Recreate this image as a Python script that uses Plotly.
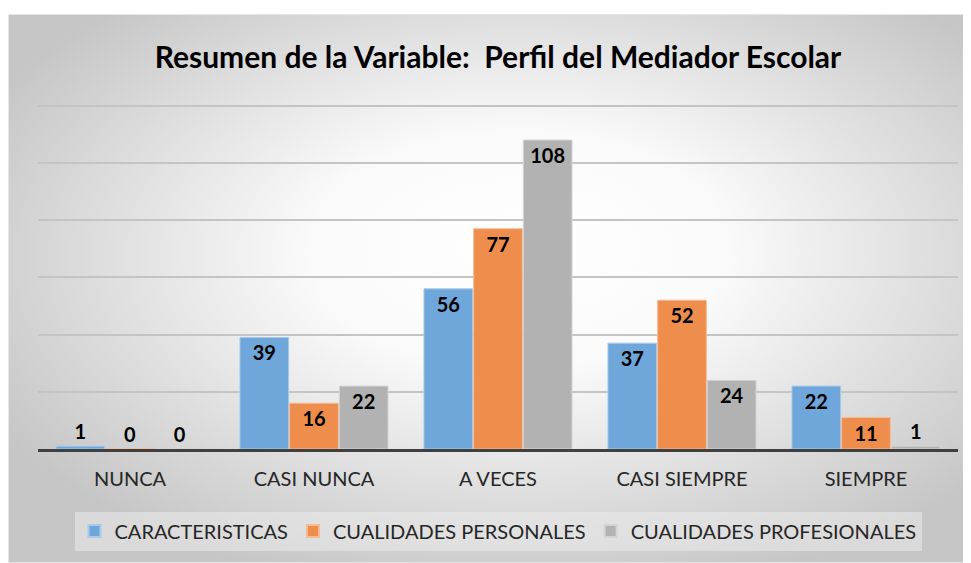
import base64
import plotly.graph_objects as go

categories = ["NUNCA", "CASI NUNCA", "A VECES", "CASI SIEMPRE", "SIEMPRE"]
caracteristicas = [1, 39, 56, 37, 22]
cualidades_personales = [0, 16, 77, 52, 11]
cualidades_profesionales = [0, 22, 108, 24, 1]
series_names = ["CARACTERISTICAS", "CUALIDADES PERSONALES", "CUALIDADES PROFESIONALES"]
title_text = "Resumen de la Variable:  Perfil del Mediador Escolar"

# page body has an 8px margin, so the figure is drawn 8px smaller and offset
OFF = 8
W, H = 971 - OFF, 563 - OFF
YMAX = 122
L, R, B = 38 - OFF, 13, 114
T = round(449 - 343 / 120 * YMAX) - OFF
FONT = "Lato"

colors = ["#6FA7DB", "#EF8D4D", "#B2B2B2"]
edge = ["#A9CBEB", "#F5BB95", "#D4D4D4"]

fig = go.Figure()
for name, vals, c, e in zip(series_names,
                            [caracteristicas, cualidades_personales, cualidades_profesionales],
                            colors, edge):
    pos = ["inside" if v >= 10 else "outside" for v in vals]
    fig.add_trace(go.Bar(
        x=categories, y=vals, name=name,
        marker=dict(color=c, line=dict(color=e, width=1)),
        text=[str(v) for v in vals], textposition=pos,
        insidetextanchor="end",
        textfont=dict(family=FONT, size=20, color="#000000", weight="bold"),
        cliponaxis=False,
    ))

svg = (
    '<svg xmlns="http://www.w3.org/2000/svg" width="963" height="549" viewBox="0 0 963 549" preserveAspectRatio="none">'
    '<defs><radialGradient id="g" cx="0.53" cy="0.45" r="0.62" fx="0.53" fy="0.42">'
    '<stop offset="0" stop-color="#FFFFFF"/>'
    '<stop offset="0.35" stop-color="#FAFAFA"/>'
    '<stop offset="1" stop-color="#C6C6C6"/>'
    '</radialGradient></defs>'
    '<rect x="0" y="0" width="963" height="549" fill="url(#g)"/>'
    '<rect x="0.5" y="0.5" width="962" height="548" fill="none" stroke="#E6E6E6" stroke-width="1"/>'
    '</svg>'
)
src = "data:image/svg+xml;base64," + base64.b64encode(svg.encode()).decode()
pw, ph = W - L - R, H - T - B
bx0, by0 = 8 - OFF, 14 - OFF
fig.add_layout_image(dict(
    source=src, xref="paper", yref="paper",
    x=(bx0 - L) / pw, y=(H - B - by0) / ph,
    sizex=(W - bx0) / pw, sizey=(H - by0) / ph,
    xanchor="left", yanchor="top", sizing="stretch", layer="below",
))

fig.update_layout(
    width=W, height=H,
    margin=dict(l=L, r=R, t=T, b=B),
    paper_bgcolor="white", plot_bgcolor="rgba(0,0,0,0)",
    barmode="group", bargap=0.19, bargroupgap=0.02,
    title=dict(text=title_text, x=0.5, xref="paper", xanchor="center",
               y=1 - (57 - OFF) / H, yanchor="middle", yref="container",
               font=dict(family=FONT, size=30, color="#000000", weight="bold")),
    font=dict(family=FONT, color="#262626"),
    showlegend=True,
    legend=dict(orientation="h", x=0.5, xanchor="center",
                y=(H - B - (531 - OFF)) / ph, yanchor="middle",
                bgcolor="rgba(235,235,235,0.55)", font=dict(family=FONT, size=20, color="#262626"),
                itemsizing="constant", tracegroupgap=0),
    xaxis=dict(showline=True, linecolor="#404040", linewidth=3, showgrid=False,
               ticks="outside", ticklen=10, tickcolor="rgba(0,0,0,0)",
               tickfont=dict(family=FONT, size=20, color="#262626"), fixedrange=True),
    yaxis=dict(range=[0, YMAX], tickvals=[20, 40, 60, 80, 100, 120],
               showgrid=True, gridcolor="#C4C4C4", gridwidth=1.5,
               showticklabels=False, zeroline=False, showline=False, fixedrange=True),
)

fig.write_html("out.html")
